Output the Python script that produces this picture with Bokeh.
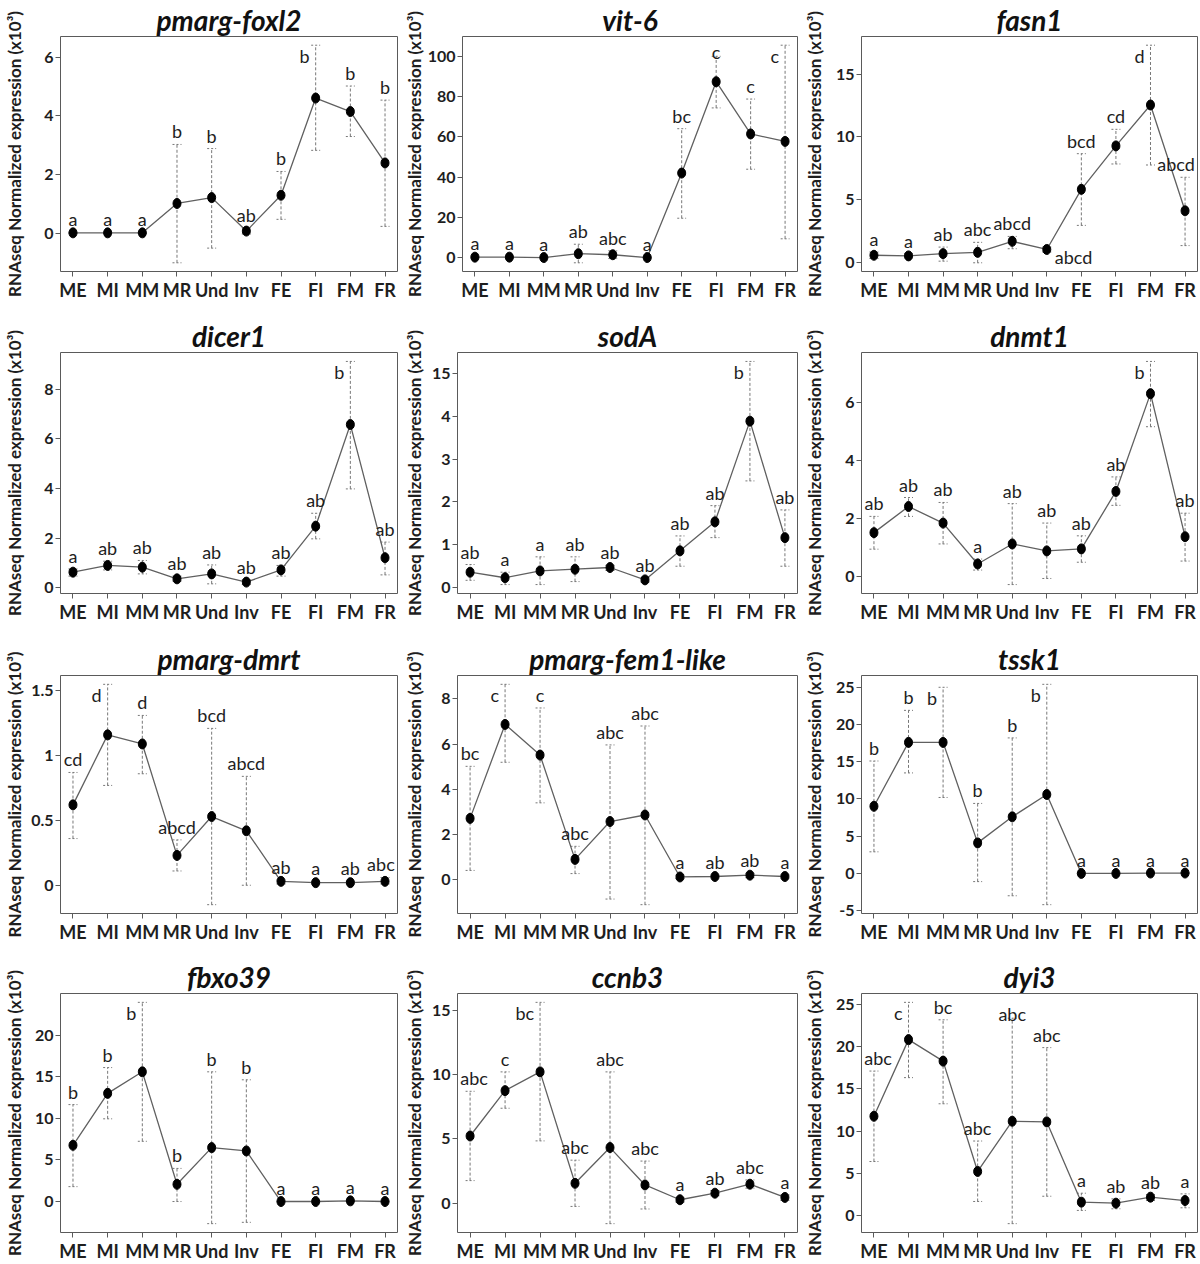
from bokeh.plotting import figure
from bokeh.layouts import column, row
from bokeh.models import FixedTicker, ColumnDataSource, Range1d
from bokeh.embed import file_html
from bokeh.resources import INLINE

# ---------------- data ----------------
categories = ["ME", "MI", "MM", "MR", "Und", "Inv", "FE", "FI", "FM", "FR"]

foxl2_mean = [0.02, 0.02, 0.02, 1.02, 1.22, 0.08, 1.30, 4.61, 4.15, 2.40]
foxl2_lo = [0.00, 0.00, 0.00, -1.00, -0.50, -0.02, 0.48, 2.83, 3.30, 0.24]
foxl2_hi = [0.04, 0.04, 0.04, 3.03, 2.89, 0.19, 2.11, 6.41, 5.02, 4.54]
foxl2_sig = ["a", "a", "a", "b", "b", "ab", "b", "b", "b", "b"]
foxl2_yticks = [0, 2, 4, 6]
foxl2_ylabels = ["0", "2", "4", "6"]

vit6_mean = [0.4, 0.4, 0.2, 2.1, 1.6, 0.2, 42.1, 87.4, 61.5, 57.8]
vit6_lo = [0.0, 0.0, 0.0, -2.4, -0.3, 0.0, 19.7, 74.4, 44.0, 9.5]
vit6_hi = [0.9, 0.9, 0.4, 6.8, 3.6, 0.4, 64.1, 100.0, 78.8, 105.5]
vit6_sig = ["a", "a", "a", "ab", "abc", "a", "bc", "c", "c", "c"]
vit6_yticks = [0, 20, 40, 60, 80, 100]
vit6_ylabels = ["0", "20", "40", "60", "80", "100"]

fasn1_mean = [0.57, 0.52, 0.70, 0.80, 1.68, 1.03, 5.82, 9.28, 12.54, 4.11]
fasn1_lo = [0.31, 0.36, 0.10, -0.03, 1.09, 0.83, 2.95, 7.84, 7.76, 1.34]
fasn1_hi = [0.83, 0.70, 1.22, 1.60, 2.07, 1.22, 8.66, 10.60, 17.30, 6.78]
fasn1_sig = ["a", "a", "ab", "abc", "abcd", "abcd", "bcd", "cd", "d", "abcd"]
fasn1_yticks = [0, 5, 10, 15]
fasn1_ylabels = ["0", "5", "10", "15"]

dicer1_mean = [0.63, 0.90, 0.83, 0.36, 0.56, 0.23, 0.72, 2.48, 6.57, 1.21]
dicer1_lo = [0.47, 0.72, 0.56, 0.27, 0.16, 0.13, 0.47, 1.97, 3.98, 0.52]
dicer1_hi = [0.76, 1.07, 1.10, 0.47, 0.92, 0.32, 0.90, 3.00, 9.11, 1.84]
dicer1_sig = ["a", "ab", "ab", "ab", "ab", "ab", "ab", "ab", "b", "ab"]
dicer1_yticks = [0, 2, 4, 6, 8]
dicer1_ylabels = ["0", "2", "4", "6", "8"]

sodA_mean = [0.35, 0.22, 0.38, 0.42, 0.46, 0.17, 0.85, 1.53, 3.89, 1.16]
sodA_lo = [0.16, 0.06, 0.06, 0.13, 0.39, 0.12, 0.49, 1.16, 2.49, 0.49]
sodA_hi = [0.53, 0.35, 0.71, 0.71, 0.51, 0.22, 1.20, 1.91, 5.29, 1.81]
sodA_sig = ["ab", "a", "a", "ab", "ab", "ab", "ab", "ab", "b", "ab"]
sodA_yticks = [0, 1, 2, 3, 4, 5]
sodA_ylabels = ["0", "1", "2", "3", "4", "15"]

dnmt1_mean = [1.52, 2.42, 1.85, 0.44, 1.13, 0.89, 0.96, 2.94, 6.31, 1.38]
dnmt1_lo = [0.95, 2.08, 1.13, 0.23, -0.27, -0.06, 0.50, 2.46, 5.17, 0.54]
dnmt1_hi = [2.08, 2.73, 2.56, 0.61, 2.52, 1.85, 1.41, 3.44, 7.42, 2.19]
dnmt1_sig = ["ab", "ab", "ab", "a", "ab", "ab", "ab", "ab", "b", "ab"]
dnmt1_yticks = [0, 2, 4, 6]
dnmt1_ylabels = ["0", "2", "4", "6"]

dmrt_mean = [0.62, 1.16, 1.09, 0.23, 0.53, 0.42, 0.03, 0.02, 0.02, 0.03]
dmrt_lo = [0.36, 0.77, 0.86, 0.11, -0.15, 0.00, 0.01, 0.01, 0.01, 0.01]
dmrt_hi = [0.87, 1.55, 1.31, 0.35, 1.21, 0.84, 0.04, 0.03, 0.03, 0.06]
dmrt_sig = ["cd", "d", "d", "abcd", "bcd", "abcd", "ab", "a", "ab", "abc"]
dmrt_yticks = [0, 0.5, 1, 1.5]
dmrt_ylabels = ["0", "0.5", "1", "1.5"]

fem1_mean = [2.70, 6.87, 5.51, 0.88, 2.56, 2.85, 0.10, 0.12, 0.18, 0.12]
fem1_lo = [0.39, 5.19, 3.39, 0.25, -0.88, -1.13, 0.03, 0.06, 0.07, 0.05]
fem1_hi = [5.01, 8.65, 7.60, 1.46, 5.96, 6.80, 0.18, 0.18, 0.26, 0.19]
fem1_sig = ["bc", "c", "c", "abc", "abc", "abc", "a", "ab", "ab", "a"]
fem1_yticks = [0, 2, 4, 6, 8]
fem1_ylabels = ["0", "2", "4", "6", "8"]

tssk1_mean = [9.02, 17.6, 17.6, 4.1, 7.6, 10.6, 0.0, 0.0, 0.05, 0.05]
tssk1_lo = [2.9, 13.5, 10.2, -1.1, -3.0, -4.2, -0.05, -0.05, 0.0, 0.0]
tssk1_hi = [15.1, 21.9, 25.0, 9.4, 18.2, 25.4, 0.05, 0.05, 0.1, 0.1]
tssk1_sig = ["b", "b", "b", "b", "b", "b", "a", "a", "a", "a"]
tssk1_yticks = [-5, 0, 5, 10, 15, 20, 25]
tssk1_ylabels = ["-5", "0", "5", "10", "15", "20", "25"]

fbxo39_mean = [6.76, 13.0, 15.59, 2.07, 6.48, 6.08, 0.0, 0.0, 0.08, 0.0]
fbxo39_lo = [1.79, 9.94, 7.24, 0.0, -2.66, -2.5, -0.05, -0.05, 0.0, -0.05]
fbxo39_hi = [11.65, 16.1, 23.94, 3.98, 15.59, 14.63, 0.05, 0.05, 0.16, 0.05]
fbxo39_sig = ["b", "b", "b", "b", "b", "b", "a", "a", "a", "a"]
fbxo39_yticks = [0, 5, 10, 15, 20]
fbxo39_ylabels = ["0", "5", "10", "15", "20"]

ccnb3_mean = [5.22, 8.75, 10.21, 1.54, 4.32, 1.41, 0.26, 0.77, 1.47, 0.44]
ccnb3_lo = [1.75, 7.38, 4.84, -0.26, -1.6, -0.46, 0.08, 0.57, 1.16, 0.21]
ccnb3_hi = [8.70, 10.21, 15.62, 3.34, 10.21, 3.27, 0.44, 0.98, 1.80, 0.64]
ccnb3_sig = ["abc", "c", "bc", "abc", "abc", "abc", "a", "ab", "abc", "a"]
ccnb3_yticks = [0, 5, 10, 15]
ccnb3_ylabels = ["0", "5", "10", "15"]

dyi3_mean = [11.76, 20.85, 18.30, 5.21, 11.17, 11.09, 1.57, 1.45, 2.16, 1.76]
dyi3_lo = [6.39, 16.34, 13.24, 1.65, -0.98, 2.27, 0.59, 0.78, 1.76, 0.90]
dyi3_hi = [17.12, 25.27, 23.20, 8.82, 23.39, 19.90, 2.63, 1.96, 2.47, 2.55]
dyi3_sig = ["abc", "c", "bc", "abc", "abc", "abc", "a", "ab", "ab", "a"]
dyi3_yticks = [0, 5, 10, 15, 20, 25]
dyi3_ylabels = ["0", "5", "10", "15", "20", "25"]

panels = [
    ("pmarg-foxl2", foxl2_mean, foxl2_lo, foxl2_hi, foxl2_sig, foxl2_yticks, foxl2_ylabels),
    ("vit-6", vit6_mean, vit6_lo, vit6_hi, vit6_sig, vit6_yticks, vit6_ylabels),
    ("fasn1", fasn1_mean, fasn1_lo, fasn1_hi, fasn1_sig, fasn1_yticks, fasn1_ylabels),
    ("dicer1", dicer1_mean, dicer1_lo, dicer1_hi, dicer1_sig, dicer1_yticks, dicer1_ylabels),
    ("sodA", sodA_mean, sodA_lo, sodA_hi, sodA_sig, sodA_yticks, sodA_ylabels),
    ("dnmt1", dnmt1_mean, dnmt1_lo, dnmt1_hi, dnmt1_sig, dnmt1_yticks, dnmt1_ylabels),
    ("pmarg-dmrt", dmrt_mean, dmrt_lo, dmrt_hi, dmrt_sig, dmrt_yticks, dmrt_ylabels),
    ("pmarg-fem1-like", fem1_mean, fem1_lo, fem1_hi, fem1_sig, fem1_yticks, fem1_ylabels),
    ("tssk1", tssk1_mean, tssk1_lo, tssk1_hi, tssk1_sig, tssk1_yticks, tssk1_ylabels),
    ("fbxo39", fbxo39_mean, fbxo39_lo, fbxo39_hi, fbxo39_sig, fbxo39_yticks, fbxo39_ylabels),
    ("ccnb3", ccnb3_mean, ccnb3_lo, ccnb3_hi, ccnb3_sig, ccnb3_yticks, ccnb3_ylabels),
    ("dyi3", dyi3_mean, dyi3_lo, dyi3_hi, dyi3_sig, dyi3_yticks, dyi3_ylabels),
]

# letters drawn to the right of the mean instead of above the bar
side_labels = {("fasn1", "Inv")}

# ---------------- layout / style ----------------
FONT = "Lato"
TXT = "#1e1e1e"
GREY = "#5a5a5a"
col_w = [400, 400, 400]
left_b = [60, 57, 61]
row_h = [305, 320, 320, 319]
top_b = [30, 47, 50, 48]
frame_h = [241, 241, 238, 240]
LETTER_PX = 18
YLABEL = "RNAseq Normalized expression (x10\u00b3)"


def label_width(s):
    w = 0.0
    for ch in s:
        w += 4.1 if ch == "." else (5.8 if ch == "-" else 9.3)
    return w


def make_panel(k):
    name, mean, lo, hi, sig, yt, yl = panels[k]
    r, c = divmod(k, 3)
    W, H = col_w[c], row_h[r]
    lb, tb, FH = left_b[c], top_b[r], frame_h[r]
    bb = H - tb - FH
    fw = W - lb - 3
    if r == 0:
        FH -= 7  # title needs a little more room than the border on the first row

    dmin, dmax = min(lo + mean), max(hi + mean)
    pad = 0.04 * (dmax - dmin)
    ymin, ymax = dmin - pad, dmax + pad
    px = (ymax - ymin) / FH
    xs = [i + 1 for i in range(len(categories))]
    xpx = 9.72 / fw

    p = figure(width=W, height=H, output_backend="svg", toolbar_location=None,
               x_range=Range1d(0.64, 10.36), y_range=Range1d(ymin, ymax),
               min_border_left=lb, min_border_right=3, min_border_top=tb,
               min_border_bottom=bb, background_fill_color="white",
               border_fill_color="white")
    p.title.text = name
    p.title.align = "center"
    p.title.text_font = FONT
    p.title.text_font_size = "28px"
    p.title.text_font_style = "bold italic"
    p.title.text_color = "#111111"
    p.title.standoff = 0
    p.title.offset = 0

    p.grid.visible = False
    p.outline_line_color = GREY
    p.outline_line_width = 1
    p.axis.axis_line_color = None
    p.axis.major_tick_line_color = GREY
    p.axis.major_tick_out = 5
    p.axis.major_tick_in = 0
    p.axis.minor_tick_line_color = None
    p.axis.major_label_text_font = FONT
    p.axis.major_label_text_font_style = "bold"
    p.axis.major_label_text_color = TXT

    p.xaxis.ticker = FixedTicker(ticks=xs)
    p.xaxis.major_label_overrides = {x: cname for x, cname in zip(xs, categories)}
    p.xaxis.major_label_text_font_size = "18px"
    p.xaxis.major_label_standoff = 2
    p.xaxis.axis_label_standoff = 0

    p.yaxis.ticker = FixedTicker(ticks=yt)
    p.yaxis.major_label_overrides = {t: s for t, s in zip(yt, yl)}
    p.yaxis.major_label_text_font_size = "16px"
    p.yaxis.major_label_standoff = 2
    p.yaxis.axis_label = YLABEL
    p.yaxis.axis_label_text_font = FONT
    p.yaxis.axis_label_text_font_size = "17px"
    p.yaxis.axis_label_text_font_style = "bold"
    p.yaxis.axis_label_text_color = TXT
    wmax = max(label_width(s) for s in yl)
    p.yaxis.axis_label_standoff = int(max(0, lb - 34 - wmax))

    cap = 4.5 * xpx
    src = ColumnDataSource(dict(x=xs, m=mean, lo=lo, hi=hi,
                                xl=[x - cap for x in xs], xr=[x + cap for x in xs]))
    ebc = "#787878"
    p.segment(x0="x", y0="lo", x1="x", y1="hi", source=src, line_color=ebc,
              line_width=1, line_dash="3 2")
    p.segment(x0="xl", y0="hi", x1="xr", y1="hi", source=src, line_color=ebc,
              line_width=1, line_dash="2 2")
    p.segment(x0="xl", y0="lo", x1="xr", y1="lo", source=src, line_color=ebc,
              line_width=1, line_dash="2 2")
    p.line(x="x", y="m", source=src, line_color="#606060", line_width=1.3)
    p.ellipse(x="x", y="m", source=src, width=8, height=10, width_units="screen",
              height_units="screen", fill_color="black", line_color="black")

    groups = {}
    for x, m, h, s, cname in zip(xs, mean, hi, sig, categories):
        if (name, cname) in side_labels:
            key = ("left", "middle")
            pos = (x + 8 * xpx, m - 7 * px)
        else:
            pos = None
            for gap in (13, 4):
                if h + (gap + 13) * px <= ymax:
                    half = 0.27 * LETTER_PX * len(s)
                    xc = min(max(x, 0.64 + (half + 2) * xpx), 10.36 - (half + 2) * xpx)
                    pos = (xc, h + gap * px)
                    key = ("center", "alphabetic")
                    break
            if pos is None:
                pos = (x - 6 * xpx, h)
                key = ("right", "top")
        g = groups.setdefault(key, dict(x=[], y=[], t=[]))
        g["x"].append(pos[0])
        g["y"].append(pos[1])
        g["t"].append(s)
    for (al, bl), g in groups.items():
        p.text(x=g["x"], y=g["y"], text=g["t"], text_align=al, text_baseline=bl,
               text_font_size=f"{LETTER_PX}px", text_color=TXT,
               text_font={"value": FONT})
    return p


figs = [make_panel(k) for k in range(len(panels))]
layout = column(*[row(*figs[r * 3:(r + 1) * 3]) for r in range(4)])

open("out.html", "w").write(file_html(layout, INLINE, "RNAseq expression"))
